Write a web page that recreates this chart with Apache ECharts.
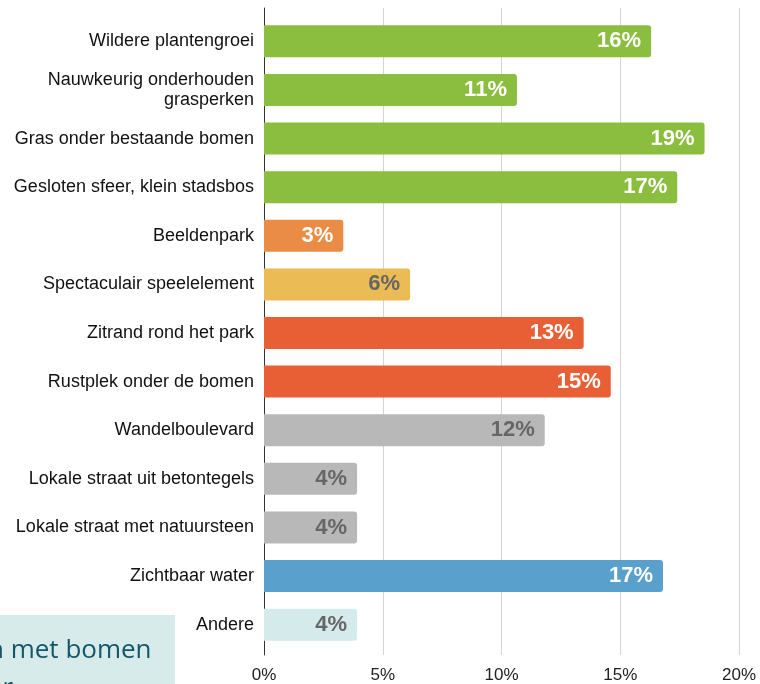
<!DOCTYPE html>
<html><head><meta charset="utf-8">
<script src="https://cdn.jsdelivr.net/npm/echarts@6/dist/echarts.min.js"></script>
<style>html,body{margin:0;padding:0;background:#fff}#c{width:760px;height:684px}</style>
</head><body><div id="c"></div>
<script>
const categories = [
  'Wildere plantengroei',
  'Nauwkeurig onderhouden\ngrasperken',
  'Gras onder bestaande bomen',
  'Gesloten sfeer, klein stadsbos',
  'Beeldenpark',
  'Spectaculair speelelement',
  'Zitrand rond het park',
  'Rustplek onder de bomen',
  'Wandelboulevard',
  'Lokale straat uit betontegels',
  'Lokale straat met natuursteen',
  'Zichtbaar water',
  'Andere'
];
const values = [16.3, 10.65, 18.55, 17.4, 3.34, 6.15, 13.46, 14.6, 11.82, 3.92, 3.92, 16.8, 3.92];
const barColors = ['#8bbd3f','#8bbd3f','#8bbd3f','#8bbd3f','#ea8c45','#ebbb55','#e95f35','#e95f35','#b8b8b8','#b8b8b8','#b8b8b8','#5aa0cc','#d5eaea'];
const labelColors = ['#fff','#fff','#fff','#fff','#fff','#666','#fff','#fff','#666','#666','#666','#fff','#666'];
const xTicks = [0, 5, 10, 15, 20];

const chart = echarts.init(document.getElementById('c'));
chart.setOption({
  animation: false,
  grid: [
    {left: 264, right: 21, top: 17, bottom: 35},
    {left: 264, right: 21, top: 8, bottom: 26}
  ],
  xAxis: [
    {gridIndex: 0, type: 'value', min: 0, max: 20, show: false},
    {gridIndex: 1, type: 'value', min: xTicks[0], max: xTicks[xTicks.length-1], interval: 5,
     axisLine: {show: false}, axisTick: {show: false},
     splitLine: {lineStyle: {color: '#d4d4d4', width: 1}},
     axisLabel: {formatter: '{value}%', fontFamily: 'Liberation Sans, Arial', fontSize: 17, color: '#222', margin: 12}}
  ],
  yAxis: [
    {gridIndex: 0, type: 'category', data: categories, inverse: true,
     axisLine: {show: false}, axisTick: {show: false},
     axisLabel: {fontFamily: 'Liberation Sans, Arial', fontSize: 18, color: '#111', margin: 10, lineHeight: 20, align: 'right'}},
    {gridIndex: 1, type: 'value', min: 0, max: 1,
     axisLine: {show: true, lineStyle: {color: '#333', width: 1}},
     axisTick: {show: false}, axisLabel: {show: false}, splitLine: {show: false}}
  ],
  series: [{
    type: 'bar', xAxisIndex: 0, yAxisIndex: 0,
    barWidth: 32,
    data: values.map((v, i) => ({
      value: v,
      itemStyle: {color: barColors[i], borderRadius: [0, 3, 3, 0]},
      label: {color: labelColors[i]}
    })),
    label: {show: true, position: 'insideRight', distance: 10,
      formatter: p => Math.round(p.value) + '%',
      fontFamily: 'Liberation Sans, Arial', fontWeight: 'bold', fontSize: 22},
    z: 3
  }],
  graphic: [
    {type: 'rect', left: 0, top: 615, shape: {width: 175, height: 69}, style: {fill: '#d6ebea'}, z: 10},
    {type: 'text', x: -12, y: 638, style: {text: 'n met bomen', font: '26px "Open Sans", Lato, sans-serif', fill: '#15566a'}, z: 11},
    {type: 'text', x: -12, y: 676, style: {text: 'er', font: '26px "Open Sans", Lato, sans-serif', fill: '#15566a'}, z: 11}
  ]
});
</script></body></html>
